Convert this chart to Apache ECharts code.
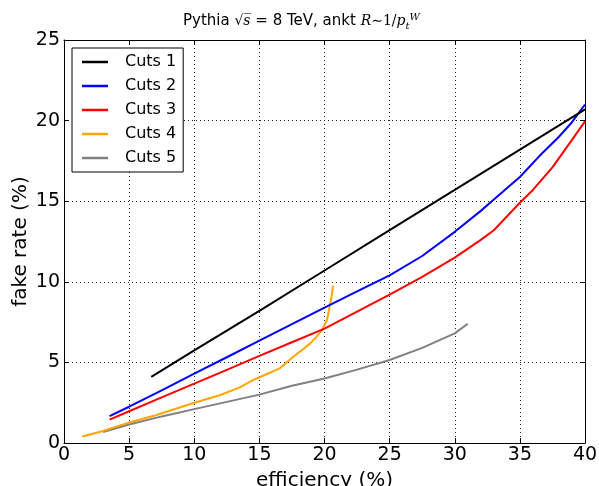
<!DOCTYPE html>
<html>
<head>
<meta charset="utf-8">
<script src="https://cdn.jsdelivr.net/npm/echarts@6/dist/echarts.min.js"></script>
<style>html,body{margin:0;padding:0;background:#fff;}#c{width:599px;height:486px;}</style>
</head>
<body>
<div id="c"></div>
<script>
var seriesNames = ['Cuts 1', 'Cuts 2', 'Cuts 3', 'Cuts 4', 'Cuts 5'];
var cut1X = [6.7, 10, 15, 20, 25, 30, 35, 40];
var cut1Y = [4.1, 5.75, 8.2, 10.7, 13.2, 15.7, 18.2, 20.7];
var cut2X = [3.5, 5, 7.5, 10, 12.5, 15, 17.5, 20, 22.5, 25, 27.5, 30, 32, 33, 35, 36.5, 38, 39, 40];
var cut2Y = [1.67, 2.25, 3.27, 4.3, 5.32, 6.35, 7.37, 8.4, 9.4, 10.4, 11.6, 13.1, 14.4, 15.1, 16.5, 17.8, 19.0, 19.9, 21.0];
var cut3X = [3.5, 5, 7.5, 10, 12.5, 15, 17.5, 20, 22.5, 25, 27.5, 30, 32, 33, 35, 36, 37.5, 39, 40];
var cut3Y = [1.45, 1.97, 2.83, 3.68, 4.54, 5.4, 6.25, 7.1, 8.15, 9.2, 10.3, 11.5, 12.6, 13.2, 14.9, 15.7, 17.1, 18.8, 19.95];
var cut4X = [1.4, 3.0, 4.8, 7.1, 9.7, 12.0, 13.5, 14.5, 15.5, 16.6, 17.6, 18.4, 18.9, 19.4, 19.8, 20.2, 20.4, 20.55, 20.65];
var cut4Y = [0.4, 0.74, 1.22, 1.74, 2.42, 2.98, 3.45, 3.9, 4.25, 4.65, 5.35, 5.85, 6.18, 6.6, 7.0, 7.65, 8.5, 9.1, 9.75];
var cut5X = [3.0, 5, 7.5, 10, 12.5, 15, 17.5, 20, 22.5, 25, 27.5, 30, 31];
var cut5Y = [0.68, 1.15, 1.65, 2.1, 2.55, 3.0, 3.55, 4.0, 4.55, 5.15, 5.9, 6.8, 7.4];
var colors = ['#000000', '#0000ff', '#ff0000', '#ffa500', '#808080'];

function pairs(xs, ys) { return xs.map(function (x, i) { return [x, ys[i]]; }); }
var allX = [cut1X, cut2X, cut3X, cut4X, cut5X];
var allY = [cut1Y, cut2Y, cut3Y, cut4Y, cut5Y];

var font = 'DejaVu Sans';
var chart = echarts.init(document.getElementById('c'), null, {renderer: 'canvas'});

function axisCommon(pos, showLabel, isX) {
  return {
    type: 'value',
    position: pos,
    min: 0,
    max: isX ? 40 : 25,
    interval: 5,
    axisLine: {show: true, onZero: false, lineStyle: {color: '#000', width: 1}},
    axisTick: {show: true, inside: true, length: 5, lineStyle: {color: '#000', width: 1}},
    axisLabel: {show: showLabel, color: '#000', fontFamily: font, fontSize: 19, margin: isX ? 3 : 4},
    splitLine: {show: showLabel, lineStyle: {color: '#222', width: 1, type: [1, 3]}}
  };
}

var xMain = axisCommon('bottom', true, true);
xMain.name = 'efficiency (%)';
xMain.nameLocation = 'middle';
xMain.nameGap = 28;
xMain.nameMoveOverlap = false;
xMain.nameTextStyle = {color: '#000', fontFamily: font, fontSize: 20};
var yMain = axisCommon('left', true, false);
yMain.name = 'fake rate (%)';
yMain.nameLocation = 'middle';
yMain.nameGap = 33;
yMain.nameMoveOverlap = false;
yMain.nameTextStyle = {color: '#000', fontFamily: font, fontSize: 20};

var LH = 19;
var option = {
  backgroundColor: '#fff',
  animation: false,
  title: {
    left: 183,
    top: 12,
    padding: 0,
    text: '{n|Pythia }{r|\u221A}{o|s\u0305}{n| = 8 TeV, ankt }{i|R}{m|\u223C1/}{i|p}{sub|t}{sup|W}',
    textStyle: {
      fontFamily: font, fontSize: 15, fontWeight: 'normal', color: '#000',
      rich: {
        n: {fontFamily: font, fontSize: 15, color: '#000', lineHeight: LH},
        m: {fontFamily: 'DejaVu Serif', fontSize: 14, color: '#000', lineHeight: LH},
        r: {fontFamily: 'DejaVu Sans', fontSize: 14, color: '#000', lineHeight: LH},
        o: {fontFamily: 'DejaVu Serif', fontStyle: 'italic', fontSize: 14, color: '#000', lineHeight: LH},
        i: {fontFamily: 'DejaVu Serif', fontStyle: 'italic', fontSize: 14, color: '#000', lineHeight: LH},
        sub: {fontFamily: 'DejaVu Serif', fontStyle: 'italic', fontSize: 10, color: '#000', verticalAlign: 'bottom', lineHeight: LH},
        sup: {fontFamily: 'DejaVu Serif', fontStyle: 'italic', fontSize: 10, color: '#000', verticalAlign: 'top', lineHeight: LH}
      }
    }
  },
  legend: {
    left: 72,
    top: 48,
    orient: 'vertical',
    data: seriesNames,
    icon: 'rect',
    itemWidth: 26,
    itemHeight: 2.5,
    itemGap: 6,
    padding: [5, 7, 5, 10],
    borderColor: '#000',
    borderWidth: 1,
    borderRadius: 0,
    backgroundColor: '#fff',
    textStyle: {color: '#000', fontFamily: font, fontSize: 16, lineHeight: 18, padding: [0, 0, 0, 12]}
  },
  grid: {left: 64, right: 14, top: 40, bottom: 43, containLabel: false, outerBoundsMode: 'none'},
  xAxis: [xMain, axisCommon('top', false, true)],
  yAxis: [yMain, axisCommon('right', false, false)],
  series: seriesNames.map(function (name, i) {
    return {
      name: name,
      type: 'line',
      xAxisIndex: 0,
      yAxisIndex: 0,
      data: pairs(allX[i], allY[i]),
      symbol: 'none',
      showSymbol: false,
      smooth: false,
      color: colors[i],
      itemStyle: {color: colors[i]},
      lineStyle: {color: colors[i], width: 2},
      z: 3 + (4 - i)
    };
  })
};
chart.setOption(option);
</script>
</body>
</html>
